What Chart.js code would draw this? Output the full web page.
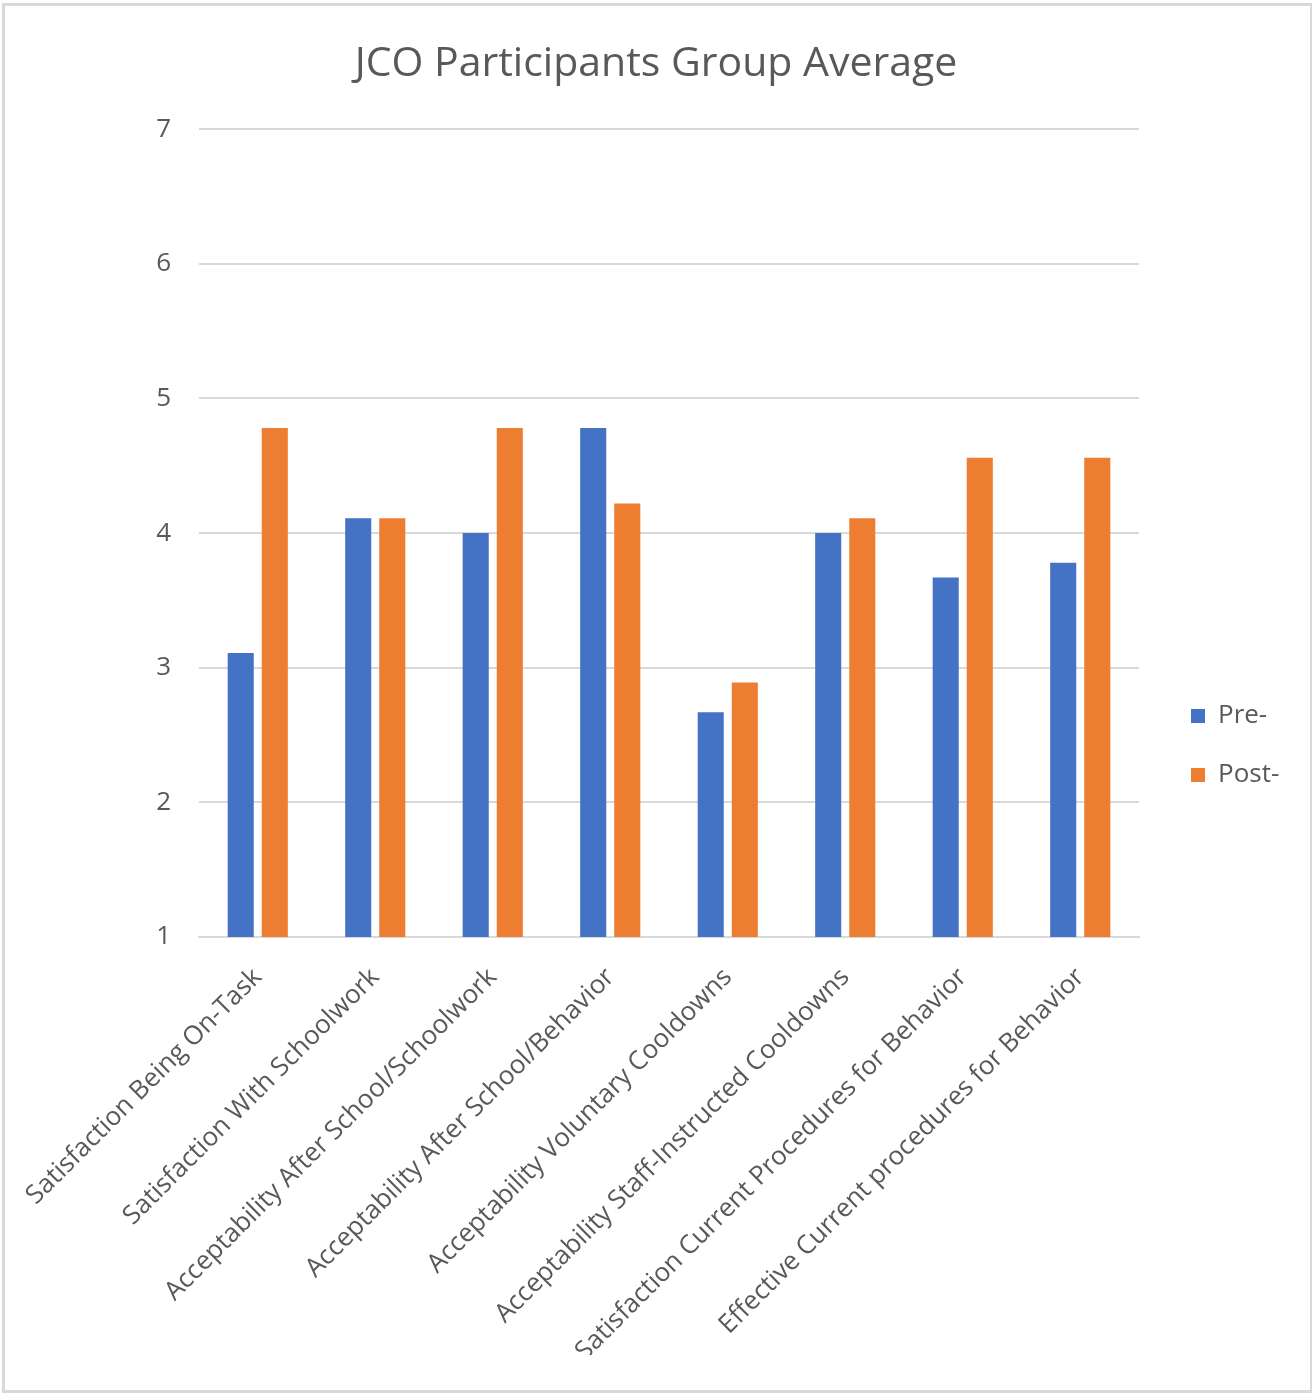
<!DOCTYPE html>
<html>
<head>
<meta charset="utf-8">
<script src="https://cdn.jsdelivr.net/npm/chart.js@4/dist/chart.umd.min.js"></script>
<style>
  html, body { margin: 0; padding: 0; background: #fff; }
  #wrap { position: relative; width: 1312px; height: 1393px; }
  #frame { position: absolute; left: 2px; top: 3px; width: 1305px; height: 1384px;
           border: 3px solid #d9d9d9; border-right-width: 2px; pointer-events: none; }
</style>
</head>
<body>
<div id="wrap">
  <canvas id="chart" width="1312" height="1393"></canvas>
  <div id="frame"></div>
</div>
<script>
const categories = [
  "Satisfaction Being On-Task",
  "Satisfaction With Schoolwork",
  "Acceptability After School/Schoolwork",
  "Acceptability After School/Behavior",
  "Acceptability Voluntary Cooldowns",
  "Acceptability Staff-Instructed Cooldowns",
  "Satisfaction Current Procedures for Behavior",
  "Effective Current procedures for Behavior"
];
const preValues  = [3.11, 4.11, 4.00, 4.78, 2.67, 4.00, 3.67, 3.78];
const postValues = [4.78, 4.11, 4.78, 4.22, 2.89, 4.11, 4.56, 4.56];
const seriesNames = ["Pre-", "Post-"];
const yTicks = [1, 2, 3, 4, 5, 6, 7];

const FONT = "'Open Sans', 'Noto Sans', sans-serif";
const GREY = "#595959";

// Legend column on the right: reserve a fixed width and nudge the entries
// so they sit a little further from the plot and lower down.
const LEGEND_WIDTH = 173;
const LEGEND_SHIFT = { x: 19, y: 68 };
const legendPlacement = {
  id: "legendPlacement",
  beforeLayout(chart) {
    const lg = chart.legend;
    if (lg && !lg._fixedWidth) {
      const fit = lg.fit.bind(lg);
      lg.fit = function () { fit(); this.width = LEGEND_WIDTH; };
      lg._fixedWidth = true;
    }
  },
  afterLayout(chart) {
    const lg = chart.legend;
    if (!lg) return;
    lg.left += LEGEND_SHIFT.x; lg.right += LEGEND_SHIFT.x;
    lg.top += LEGEND_SHIFT.y;  lg.bottom += LEGEND_SHIFT.y;
  }
};

new Chart(document.getElementById("chart"), {
  type: "bar",
  data: {
    labels: categories,
    datasets: [
      { label: seriesNames[0], data: preValues,  backgroundColor: "#4472C4" },
      { label: seriesNames[1], data: postValues, backgroundColor: "#ED7D31" }
    ]
  },
  plugins: [legendPlacement],
  options: {
    responsive: false,
    animation: false,
    devicePixelRatio: 1,
    layout: { padding: { left: 0, right: 0, top: 0, bottom: 38 } },
    datasets: { bar: { categoryPercentage: 0.58, barPercentage: 0.765 } },
    plugins: {
      title: {
        display: true,
        text: "JCO Participants Group Average",
        color: GREY,
        font: { family: FONT, size: 41, weight: "normal" },
        padding: { top: 40, bottom: 40 }
      },
      legend: {
        position: "right",
        labels: {
          color: GREY,
          font: { family: FONT, size: 26 },
          boxWidth: 14,
          boxHeight: 14,
          padding: 33
        }
      },
      tooltip: { enabled: false }
    },
    scales: {
      x: {
        grid: { display: false },
        border: { display: true, color: "#d9d9d9", width: 2 },
        ticks: {
          color: GREY,
          font: { family: FONT, size: 26 },
          minRotation: 45,
          maxRotation: 45,
          autoSkip: false,
          padding: 17
        },
        afterFit: s => { s.height = 418; }
      },
      y: {
        min: 1,
        max: 7,
        afterBuildTicks: s => { s.ticks = yTicks.map(v => ({ value: v })); },
        grid: { color: "#d9d9d9", lineWidth: 2, drawTicks: false },
        border: { display: false },
        ticks: {
          color: GREY,
          font: { family: FONT, size: 26 },
          padding: 28
        },
        afterFit: s => { s.width = 199; }
      }
    }
  }
});
</script>
</body>
</html>
